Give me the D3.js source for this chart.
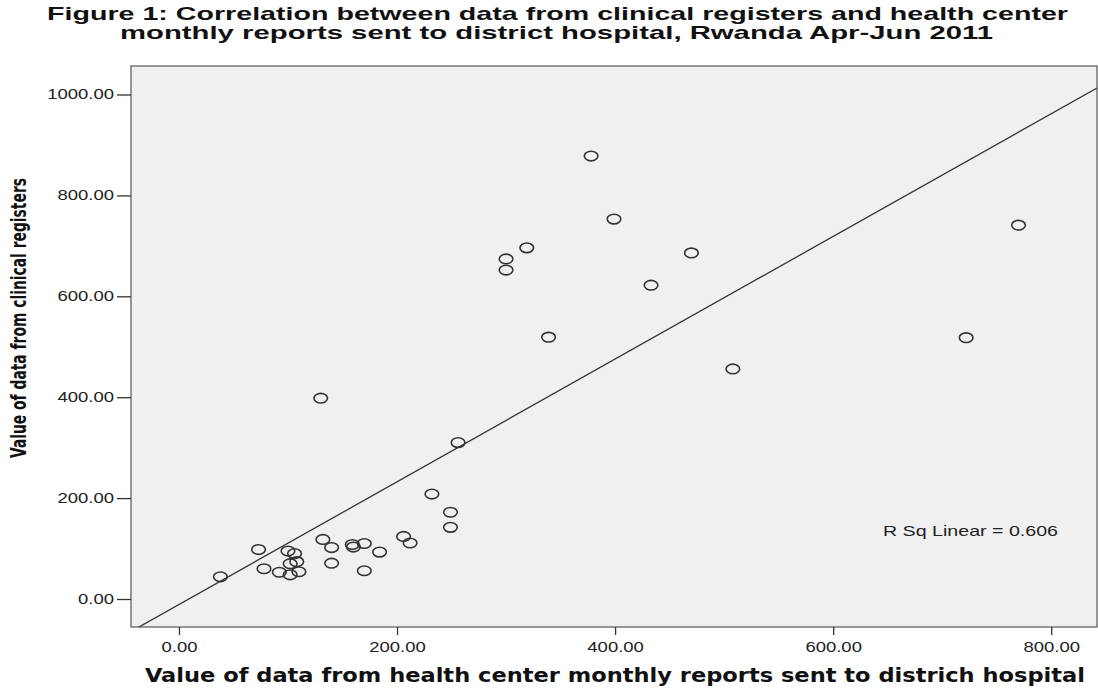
<!DOCTYPE html>
<html>
<head>
<meta charset="utf-8">
<script src="https://cdn.jsdelivr.net/npm/d3@7"></script>
<style>
  html, body { margin: 0; padding: 0; background: #ffffff; }
  svg { display: block; }
</style>
</head>
<body>
<script>
// Health-center report values (x) vs clinical-register values (y)
const reportValues   = [38, 73, 78, 92, 100, 102, 102, 106, 108, 110,
                        130, 132, 140, 140, 159, 160, 170, 170, 184, 206,
                        212, 232, 249, 249, 256, 300, 300, 319, 339, 378,
                        399, 433, 470, 508, 722, 770];
const registerValues = [44, 98, 60, 53, 95, 70, 48, 90, 74, 54,
                        398, 118, 71, 102, 108, 103, 56, 110, 93, 124,
                        111, 208, 172, 142, 310, 652, 674, 696, 519, 878,
                        753, 622, 686, 456, 518, 741];

const xTickValues = [0, 200, 400, 600, 800];
const yTickValues = [0, 200, 400, 600, 800, 1000];

// Linear fit line
const fitSlope = 1.216;
const fitIntercept = -10.9;
const rSquaredLabel = "R Sq Linear = 0.606";

const titleLines = [
  "Figure 1: Correlation between data from clinical registers and health center",
  "monthly reports sent to district hospital, Rwanda Apr-Jun 2011"
];
const xTitle = "Value of data from health center monthly reports sent to districh hospital";
const yTitle = "Value of data from clinical registers";

const W = 1098, H = 688;
const plot = { left: 131, right: 1097, top: 66, bottom: 627 };
const stretch = 1.32;

const svg = d3.select("body").append("svg")
  .attr("width", W).attr("height", H);

const x = d3.scaleLinear().domain([-44, 842]).range([plot.left, plot.right]);
const y = d3.scaleLinear().domain([-55.5, 1056.5]).range([plot.bottom, plot.top]);

// widen a text element horizontally by a factor
function widen(sel, factor) {
  sel.each(function () {
    const w = this.getComputedTextLength();
    d3.select(this).attr("textLength", w * factor).attr("lengthAdjust", "spacingAndGlyphs");
  });
}
function fitWidth(sel, width) {
  sel.attr("textLength", width).attr("lengthAdjust", "spacingAndGlyphs");
}

// plot area
svg.append("rect")
  .attr("x", plot.left).attr("y", plot.top)
  .attr("width", plot.right - plot.left).attr("height", plot.bottom - plot.top)
  .attr("fill", "#f0f0f0").attr("stroke", "#555").attr("stroke-width", 1.2);

svg.append("clipPath").attr("id", "plotClip")
  .append("rect")
  .attr("x", plot.left).attr("y", plot.top)
  .attr("width", plot.right - plot.left).attr("height", plot.bottom - plot.top);

// axes
const xAxis = svg.append("g")
  .attr("transform", `translate(0,${plot.bottom})`)
  .call(d3.axisBottom(x).tickValues(xTickValues).tickFormat(d3.format(".2f"))
        .tickSize(8).tickPadding(7));
const yAxis = svg.append("g")
  .attr("transform", `translate(${plot.left},0)`)
  .call(d3.axisLeft(y).tickValues(yTickValues).tickFormat(d3.format(".2f"))
        .tickSize(14).tickPadding(3));

[xAxis, yAxis].forEach(g => {
  g.select(".domain").remove();
  g.selectAll(".tick line").attr("stroke", "#333").attr("stroke-width", 1.3);
  g.selectAll(".tick text")
    .attr("fill", "#222")
    .style("font-family", "Liberation Sans, Arial, sans-serif")
    .style("font-size", "14px");
  widen(g.selectAll(".tick text"), stretch);
});

// fit line
const fitX = x.domain();
svg.append("line")
  .attr("clip-path", "url(#plotClip)")
  .attr("x1", x(fitX[0])).attr("y1", y(fitSlope * fitX[0] + fitIntercept))
  .attr("x2", x(fitX[1])).attr("y2", y(fitSlope * fitX[1] + fitIntercept))
  .attr("stroke", "#333").attr("stroke-width", 1.3);

// points
svg.append("g").selectAll("ellipse")
  .data(reportValues.map((v, i) => [v, registerValues[i]]))
  .join("ellipse")
  .attr("cx", d => x(d[0])).attr("cy", d => y(d[1]))
  .attr("rx", 6.8).attr("ry", 4.8)
  .attr("fill", "none").attr("stroke", "#333").attr("stroke-width", 1.6);

// R squared label
svg.append("text")
  .attr("x", 883).attr("y", 536)
  .style("font-family", "Liberation Sans, Arial, sans-serif")
  .style("font-size", "15px").attr("fill", "#222")
  .text(rSquaredLabel)
  .call(fitWidth, 175);

// title
svg.append("g").selectAll("text")
  .data(titleLines)
  .join("text")
  .attr("x", (d, i) => i === 0 ? 557.5 : 556.5)
  .attr("y", (d, i) => 20 + i * 19)
  .attr("text-anchor", "middle")
  .style("font-family", "Liberation Sans, Arial, sans-serif")
  .style("font-weight", "bold").style("font-size", "18.5px").attr("fill", "#111")
  .text(d => d)
  .each(function (d, i) { fitWidth(d3.select(this), i === 0 ? 1021 : 873); });

// axis titles
svg.append("text")
  .attr("x", 615).attr("y", 682)
  .attr("text-anchor", "middle")
  .style("font-family", "Liberation Sans Narrow, DejaVu Sans Condensed, Arial, sans-serif")
  .style("font-weight", "bold").style("font-size", "20px").attr("fill", "#111")
  .text(xTitle)
  .call(fitWidth, 940);

svg.append("text")
  .attr("transform", "translate(26,318) rotate(-90)")
  .attr("text-anchor", "middle")
  .style("font-family", "Liberation Sans Narrow, DejaVu Sans Condensed, Arial, sans-serif")
  .style("font-weight", "bold").style("font-size", "21px").attr("fill", "#111")
  .text(yTitle)
  .call(fitWidth, 280);
</script>
</body>
</html>
